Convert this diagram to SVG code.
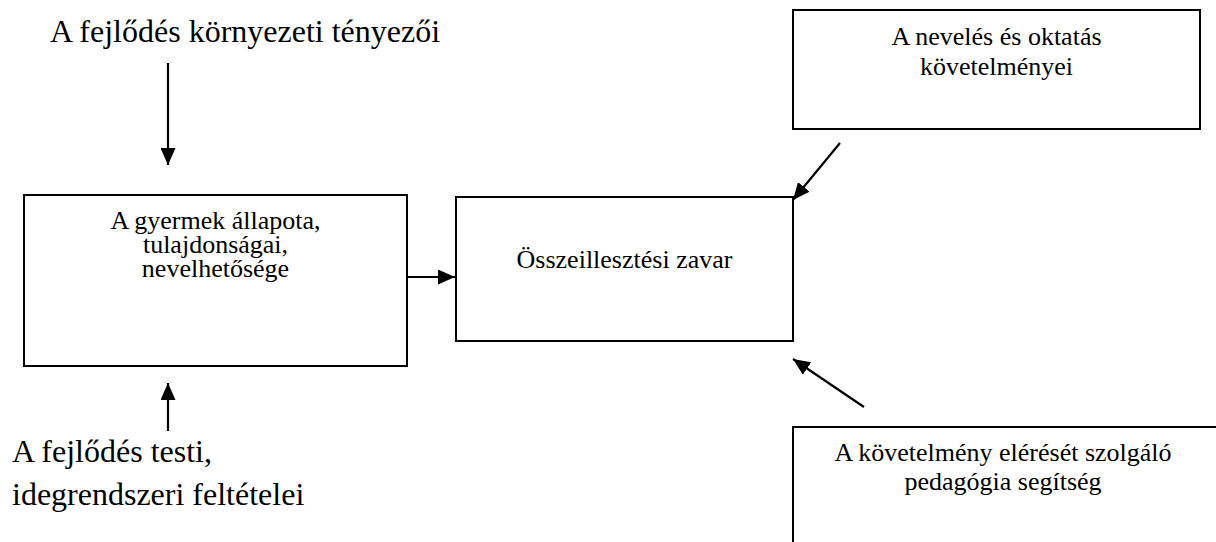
<svg xmlns="http://www.w3.org/2000/svg" width="1216" height="542" viewBox="0 0 1216 542">
<style>
.box{fill:#fff;stroke:#000;stroke-width:2}
.t{font-family:'Liberation Serif','Times New Roman',serif;font-size:26px;fill:#000;text-anchor:middle}
.lbl{font-family:'Liberation Serif','Times New Roman',serif;font-size:32px;fill:#000}
.c{stroke:#000;stroke-width:2.2;fill:none;marker-end:url(#ah)}
</style>
<defs>
<marker id="ah" viewBox="0 0 17 15" refX="17" refY="7.5" markerUnits="userSpaceOnUse" markerWidth="17" markerHeight="15" orient="auto">
<path d="M0,0 L17,7.5 L0,15 z" fill="#000"/>
</marker>
</defs>
<rect width="1216" height="542" fill="#fff"/>
<g id="label-top">
<text class="lbl" x="50" y="42">A fejlődés környezeti tényezői</text>
</g>
<g id="label-bottom">
<text class="lbl" x="12" y="462">A fejlődés testi,</text>
<text class="lbl" x="12" y="505">idegrendszeri feltételei</text>
</g>
<g id="box-gyermek">
<rect class="box" x="24" y="195" width="383" height="171"/>
<text class="t" x="215.5" y="229">A gyermek állapota,</text>
<text class="t" x="215.5" y="253">tulajdonságai,</text>
<text class="t" x="215.5" y="277">nevelhetősége</text>
</g>
<g id="box-zavar">
<rect class="box" x="456" y="197" width="337" height="144"/>
<text class="t" x="624.5" y="268">Összeillesztési zavar</text>
</g>
<g id="box-neveles">
<rect class="box" x="793" y="10" width="407" height="119"/>
<text class="t" x="996.5" y="45">A nevelés és oktatás</text>
<text class="t" x="996.5" y="75">követelményei</text>
</g>
<g id="box-segitseg">
<rect class="box" x="793" y="427" width="440" height="200"/>
<text class="t" x="1003" y="461">A követelmény elérését szolgáló</text>
<text class="t" x="1003" y="490">pedagógia segítség</text>
</g>
<g id="connectors">
<line class="c" x1="168" y1="63" x2="168" y2="165"/>
<line class="c" x1="168" y1="431" x2="168" y2="383"/>
<line class="c" x1="407" y1="277" x2="455" y2="277"/>
<line class="c" x1="840" y1="143" x2="793" y2="200"/>
<line class="c" x1="864" y1="407" x2="793" y2="359"/>
</g>
</svg>
